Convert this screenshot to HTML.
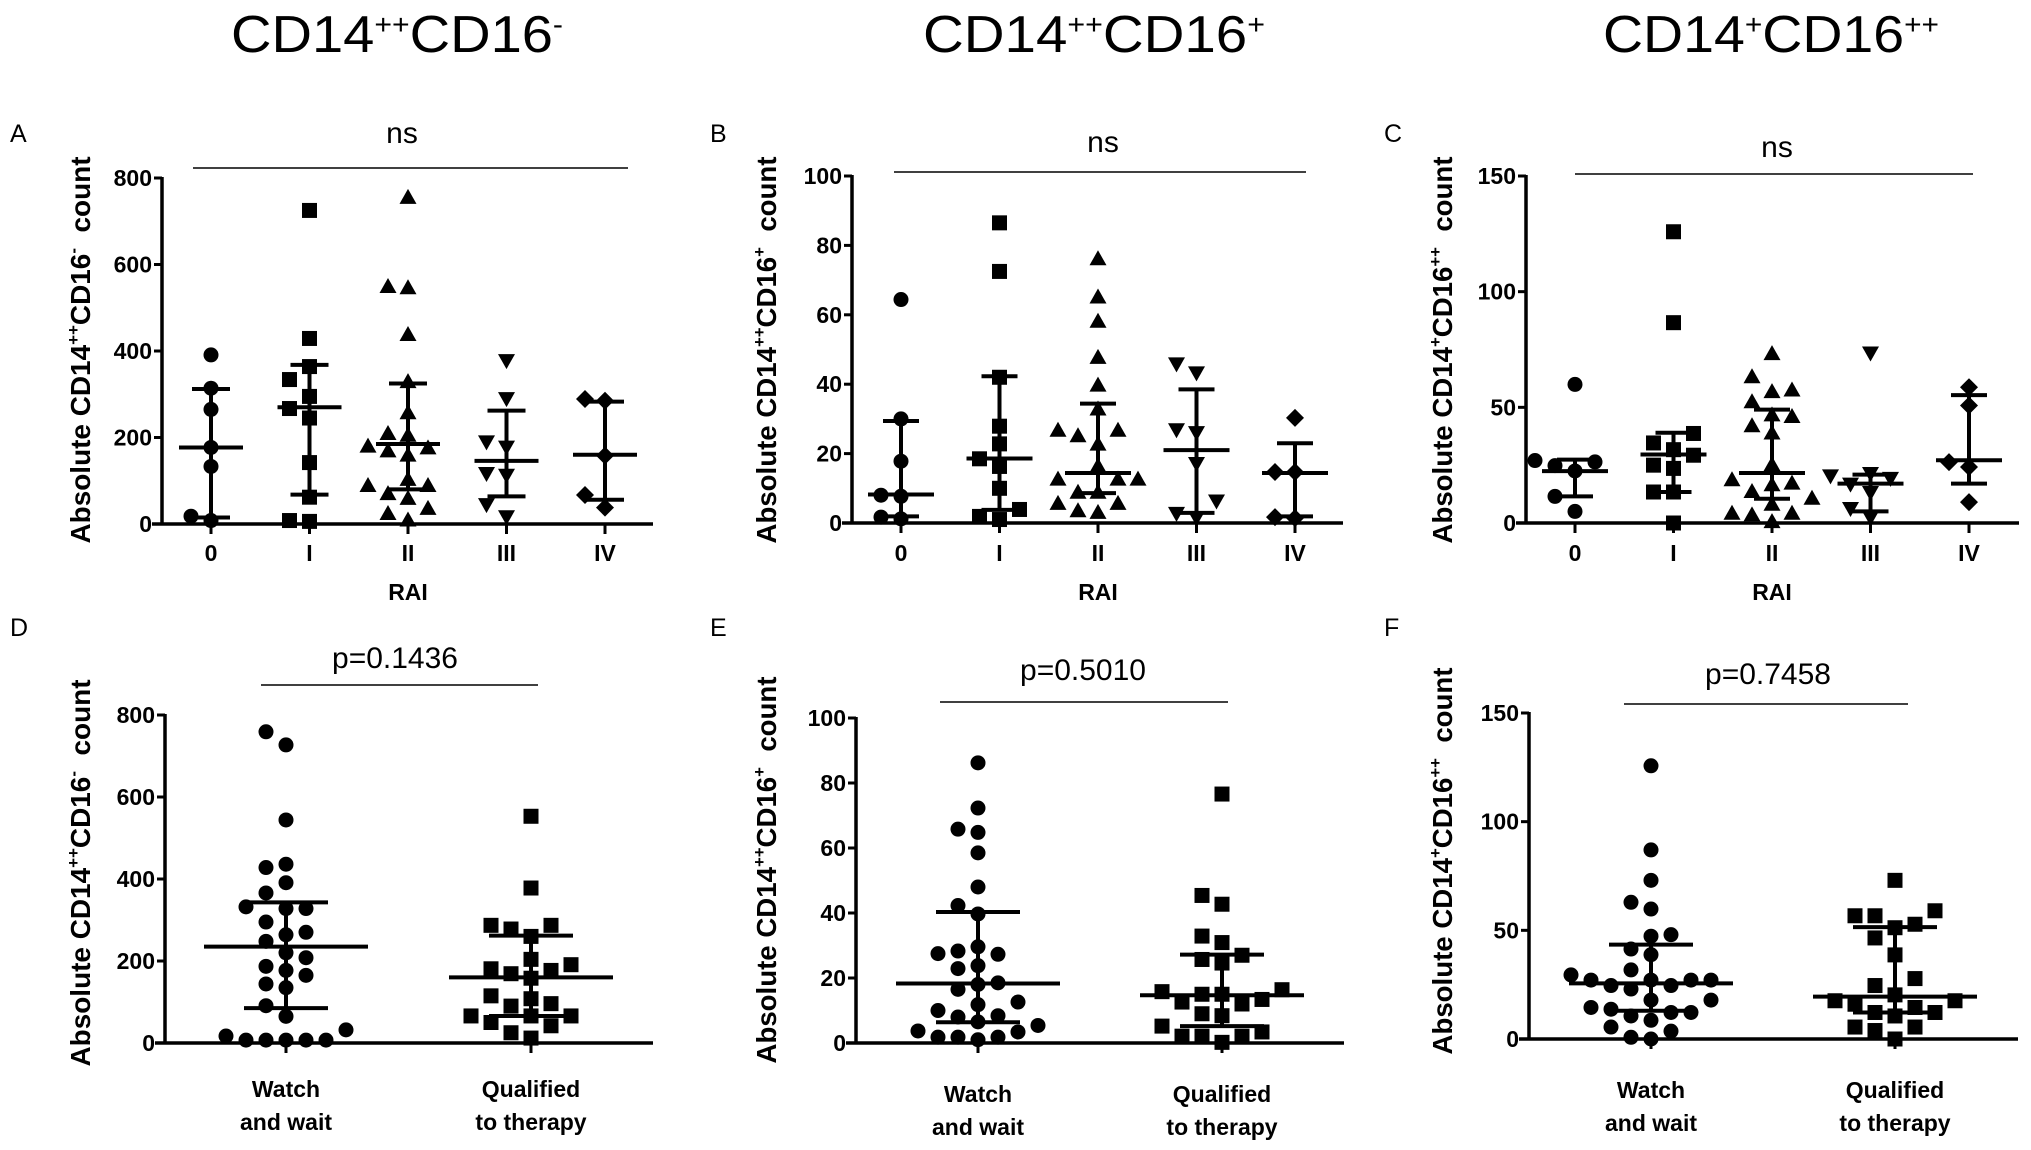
<!DOCTYPE html>
<html><head><meta charset="utf-8">
<style>
html,body{margin:0;padding:0;background:#fff;}
svg{display:block;}
text{font-family:"Liberation Sans",sans-serif;fill:#000;}
.tick{font-weight:bold;font-size:23px;}
.ylab{font-weight:bold;font-size:28px;}
.title{font-family:"Liberation Sans Narrow","Liberation Sans",sans-serif;font-size:52px;}
.letter{font-family:"Liberation Sans Narrow","Liberation Sans",sans-serif;font-size:25px;}
.sig{font-family:"Liberation Sans Narrow","Liberation Sans",sans-serif;font-size:30px;}
.pval{font-size:30px;}
</style></head>
<body>
<svg id="fig" width="2031" height="1150" viewBox="0 0 2031 1150" xmlns="http://www.w3.org/2000/svg">
<text class="title" x="397" y="52" text-anchor="middle" textLength="332" lengthAdjust="spacingAndGlyphs">CD14<tspan dy="-18" font-size="28">++</tspan><tspan dy="18">CD16</tspan><tspan dy="-18" font-size="28">-</tspan></text>
<text class="title" x="1094" y="52" text-anchor="middle" textLength="342" lengthAdjust="spacingAndGlyphs">CD14<tspan dy="-18" font-size="28">++</tspan><tspan dy="18">CD16</tspan><tspan dy="-18" font-size="28">+</tspan></text>
<text class="title" x="1771" y="52" text-anchor="middle" textLength="336" lengthAdjust="spacingAndGlyphs">CD14<tspan dy="-18" font-size="28">+</tspan><tspan dy="18">CD16</tspan><tspan dy="-18" font-size="28">++</tspan></text>
</svg>
<script>
// ---- data ----
const raiCategories = ["0","I","II","III","IV"];
const groupLine1 = ["Watch","Qualified"];
const groupLine2 = ["and wait","to therapy"];

const aTicks = [0,200,400,600,800];
const aRai0 = [391,314,265,177,133,18,8];
const aRaiI = [725,429,364,334,295,267,245,142,62,6,8];
const aRaiII = [754,545,548,437,328,256,204,208,179,175,168,158,102,88,88,69,58,35,23,8];
const aRaiIII = [379,291,191,179,118,114,46,18];
const aRaiIV = [289,285,158,67,38];
const aMedian = [177,270,185,146,160];
const aUpper = [312,368,325,262,283];
const aLower = [15,68,80,64,56];

const bTicks = [0,20,40,60,80,100];
const bRai0 = [64.4,30,17.8,8,7.7,1.7,1.2];
const bRaiI = [86.5,72.5,42,27.9,22.8,18.5,16.3,10,3.9,1,1.9];
const bRaiII = [76,65,58,47.6,39.6,32.7,26.6,26.6,25,22.6,16.3,12.5,12.5,12.5,8.7,8.7,5.5,5.5,2.9,3.4];
const bRaiIII = [46,43.4,27,26.2,17.3,6.5,2.9,1.7];
const bRaiIV = [30.3,14.7,14.7,1.7,1.4];
const bMedian = [8.2,18.6,14.4,21,14.4];
const bUpper = [29.4,42.3,34.4,38.5,23];
const bLower = [1.9,3.8,8.6,2.9,1.9];

const cTicks = [0,50,100,150];
const cRai0 = [59.9,27,26.4,24.8,22.5,11.5,5];
const cRaiI = [125.9,86.6,38.7,34.6,31.7,29.3,25,23.6,13.4,13.4,0];
const cRaiII = [73,63,57.3,56.6,52.2,46.5,45.8,41.8,38.7,25,18.5,17,16.3,13.4,10.5,7.9,4,4,3.3,0.4];
const cRaiIII = [73.7,21.6,20.6,19.5,17,13.4,6.5,2.6];
const cRaiIV = [58.7,50.8,26.3,24.2,9];
const cMedian = [22.4,29.6,21.6,17,27.1];
const cUpper = [27.4,39,49,20.9,55.3];
const cLower = [11.5,13.4,10.5,5,17];

const dWatch = [759,727,544,436,428,391,366,332,328,328,295,270,264,248,220,208,187,177,165,144,135,91,65,32,17,7,7,7,7,7];
const dQualified = [553,378,287,287,278,260,204,191,181,177,169,158,115,108,96,90,66,66,66,50,42,25,12];
const dMedian = [235,160];
const dUpper = [343,262];
const dLower = [85,66];

const eWatch = [86.2,72.3,65.8,64.8,58.5,48,42.3,39.7,29.6,28.3,27.5,27.3,23.8,22.9,18.5,18,16.5,12.6,11.8,10,8.4,8,6.5,5.4,3.7,3.4,1.8,1.8,1.8,1];
const eQualified = [76.6,45.4,42.7,32.9,30.9,27,25.7,24.6,16.4,15.8,15,15,13.4,12.6,12,9,8.4,5.2,3.4,2.1,2.1,2.1,0.2];
const eMedian = [18.3,14.7];
const eUpper = [40.3,27.2];
const eLower = [6.4,5.2];

const fWatch = [125.7,87,73,62.9,59.8,48,47.3,41.4,38.8,31.8,29.5,27.1,27.1,27.1,27.1,24.6,24.6,23,17.9,17.9,14.5,13.7,12.2,12.2,10.6,8.6,5.5,3.6,0.8,0];
const fQualified = [73,59,56.7,56.7,52.8,51.2,46.5,38.7,27.8,24.6,20.3,17.6,17.6,16,14.5,12.2,12.2,10.6,5.5,5.5,3.9,0];
const fMedian = [25.6,19.5];
const fUpper = [43.4,51.5];
const fLower = [13,12.2];

// ---- layout ----
const NS = "http://www.w3.org/2000/svg";
const svg = document.getElementById("fig");
function mk(tag, attrs, parent){
  const e = document.createElementNS(NS, tag);
  for (const k in attrs) e.setAttribute(k, attrs[k]);
  (parent||svg).appendChild(e);
  return e;
}

const panels = [
 {id:"a",letter:"A",lx:10,ly:142,ax:162,y0:524,yTop:178,max:800,ticks:aTicks,first:211,step:98.5,end:653,
  groups:[aRai0,aRaiI,aRaiII,aRaiIII,aRaiIV],shapes:["circle","square","up","down","diamond"],labels:raiCategories,
  med:aMedian,up:aUpper,lo:aLower,medW:32,capW:19,brX1:193,brX2:628,brY:168,sig:"ns",sigX:402,sigY:143,sigCls:"sig",
  ylx:90,yly:350,ylabel:["CD14","++","CD16","-"],xtitle:"RAI",xtitleY:600,catY:561},
 {id:"b",letter:"B",lx:710,ly:142,ax:852,y0:523,yTop:176,max:100,ticks:bTicks,first:901,step:98.5,end:1343,
  groups:[bRai0,bRaiI,bRaiII,bRaiIII,bRaiIV],shapes:["circle","square","up","down","diamond"],labels:raiCategories,
  med:bMedian,up:bUpper,lo:bLower,medW:33,capW:18,brX1:894,brX2:1306,brY:172,sig:"ns",sigX:1103,sigY:152,sigCls:"sig",
  ylx:776,yly:350,ylabel:["CD14","++","CD16","+"],xtitle:"RAI",xtitleY:600,catY:561},
 {id:"c",letter:"C",lx:1384,ly:142,ax:1526,y0:523,yTop:176,max:150,ticks:cTicks,first:1575,step:98.5,end:2019,
  groups:[cRai0,cRaiI,cRaiII,cRaiIII,cRaiIV],shapes:["circle","square","up","down","diamond"],labels:raiCategories,
  med:cMedian,up:cUpper,lo:cLower,medW:33,capW:18,brX1:1575,brX2:1973,brY:174,sig:"ns",sigX:1777,sigY:157,sigCls:"sig",
  ylx:1452,yly:350,ylabel:["CD14","+","CD16","++"],xtitle:"RAI",xtitleY:600,catY:561},
 {id:"d",letter:"D",lx:10,ly:636,ax:165,y0:1043,yTop:715,max:800,ticks:aTicks,first:286,step:245,end:653,
  groups:[dWatch,dQualified],shapes:["circle","square"],labels:null,
  med:dMedian,up:dUpper,lo:dLower,medW:82,capW:42,brX1:261,brX2:538,brY:685,sig:"p=0.1436",sigX:395,sigY:668,sigCls:"pval",
  ylx:90,yly:873,ylabel:["CD14","++","CD16","-"],catY:1097},
 {id:"e",letter:"E",lx:710,ly:636,ax:856,y0:1043,yTop:718,max:100,ticks:bTicks,first:978,step:244,end:1344,
  groups:[eWatch,eQualified],shapes:["circle","square"],labels:null,
  med:eMedian,up:eUpper,lo:eLower,medW:82,capW:42,brX1:940,brX2:1228,brY:702,sig:"p=0.5010",sigX:1083,sigY:680,sigCls:"pval",
  ylx:776,yly:870,ylabel:["CD14","++","CD16","+"],catY:1102},
 {id:"f",letter:"F",lx:1384,ly:636,ax:1529,y0:1039,yTop:713,max:150,ticks:cTicks,first:1651,step:244,end:2018,
  groups:[fWatch,fQualified],shapes:["circle","square"],labels:null,
  med:fMedian,up:fUpper,lo:fLower,medW:82,capW:42,brX1:1624,brX2:1908,brY:704,sig:"p=0.7458",sigX:1768,sigY:684,sigCls:"pval",
  ylx:1452,yly:861,ylabel:["CD14","+","CD16","++"],catY:1098}
];

function drawMarker(g, shape, x, y){
  let m;
  if (shape==="circle") m = mk("circle",{cx:x,cy:y,r:7.5,fill:"#000"},g);
  else if (shape==="square") m = mk("rect",{x:x-7.5,y:y-7.5,width:15,height:15,fill:"#000"},g);
  else if (shape==="up") m = mk("polygon",{points:`${x},${y-9} ${x+8.5},${y+6} ${x-8.5},${y+6}`,fill:"#000"},g);
  else if (shape==="down") m = mk("polygon",{points:`${x},${y+9} ${x+8.5},${y-6} ${x-8.5},${y-6}`,fill:"#000"},g);
  else m = mk("polygon",{points:`${x},${y-9} ${x+9},${y} ${x},${y+9} ${x-9},${y}`,fill:"#000"},g);
  return m;
}

panels.forEach(p=>{
  const g = mk("g",{});
  
  
  const yS = v => p.y0 - (v/p.max)*(p.y0-p.yTop);
  const xS = i => p.first + i*p.step;

  const L = mk("text",{x:p.lx,y:p.ly,class:"letter"},g);
  L.textContent = p.letter;
  
  

  const ya = mk("line",{x1:p.ax,y1:p.yTop-1,x2:p.ax,y2:p.y0,stroke:"#000","stroke-width":3.5},g);
  
  
  const xa = mk("line",{x1:p.ax-10,y1:p.y0,x2:p.end,y2:p.y0,stroke:"#000","stroke-width":3.5},g);
  
  

  p.ticks.forEach(t=>{
    const y = yS(t);
    const tl = mk("line",{x1:p.ax-8,y1:y,x2:p.ax,y2:y,stroke:"#000","stroke-width":3},g);
    
    
    const tx = mk("text",{x:p.ax-10,y:y+8,class:"tick","text-anchor":"end"},g);
    tx.textContent = t;
    
    
  });

  p.groups.forEach((vals,i)=>{
    const cx = xS(i);
    const tk = mk("line",{x1:cx,y1:p.y0,x2:cx,y2:p.y0+10,stroke:"#000","stroke-width":3},g);
    
    
    if (p.labels){
      const ct = mk("text",{x:cx,y:p.catY,class:"tick","text-anchor":"middle"},g);
      ct.textContent = p.labels[i];
      
      
    } else {
      const c1 = mk("text",{x:cx,y:p.catY,class:"tick","text-anchor":"middle"},g);
      c1.textContent = groupLine1[i];
      
      
      const c2 = mk("text",{x:cx,y:p.catY+33,class:"tick","text-anchor":"middle"},g);
      c2.textContent = groupLine2[i];
      
      
    }
    const placed = [];
    const order = vals.map((v,k)=>k).sort((a,b)=>vals[a]-vals[b]);
    const slots = [0,-1,1,-2,2,-3,3,-4,4];
    order.forEach(k=>{
      const y = yS(vals[k]);
      let slot = 0;
      for (const s of slots){
        if (!placed.some(q=>q.s===s && Math.abs(q.y-y)<17)){ slot = s; break; }
      }
      placed.push({s:slot,y:y});
      const m = drawMarker(g, p.shapes[i], cx + slot*20, y);
      
      
    });
    const ym = yS(p.med[i]), yu = yS(p.up[i]), yl = yS(p.lo[i]);
    const vl = mk("line",{x1:cx,y1:yu,x2:cx,y2:yl,stroke:"#000","stroke-width":4},g);
    
    
    const ml = mk("line",{x1:cx-p.medW,y1:ym,x2:cx+p.medW,y2:ym,stroke:"#000","stroke-width":4},g);
    
    
    const uc = mk("line",{x1:cx-p.capW,y1:yu,x2:cx+p.capW,y2:yu,stroke:"#000","stroke-width":4},g);
    
    
    const lc = mk("line",{x1:cx-p.capW,y1:yl,x2:cx+p.capW,y2:yl,stroke:"#000","stroke-width":4},g);
    
    
  });

  const br = mk("line",{x1:p.brX1,y1:p.brY,x2:p.brX2,y2:p.brY,stroke:"#000","stroke-width":1.6},g);
  
  
  const st = mk("text",{x:p.sigX,y:p.sigY,class:p.sigCls,"text-anchor":"middle"},g);
  st.textContent = p.sig;
  
  

  const yt = mk("text",{x:0,y:0,class:"ylab","text-anchor":"middle",transform:`translate(${p.ylx},${p.yly}) rotate(-90)`,textLength:387,lengthAdjust:"spacingAndGlyphs"},g);
  
  
  const t1 = mk("tspan",{},yt); t1.textContent = "Absolute " + p.ylabel[0];
  const t2 = mk("tspan",{dy:-11,"font-size":17},yt); t2.textContent = p.ylabel[1];
  const t3 = mk("tspan",{dy:11},yt); t3.textContent = p.ylabel[2];
  const t4 = mk("tspan",{dy:-11,"font-size":17},yt); t4.textContent = p.ylabel[3];
  const t5 = mk("tspan",{dy:11},yt); t5.textContent = "\u00a0 count";

  if (p.xtitle){
    const xt = mk("text",{x:(xS(0)+xS(p.groups.length-1))/2,y:p.xtitleY,class:"tick","text-anchor":"middle"},g);
    xt.textContent = p.xtitle;
    
    
  }
});
</script>
</body></html>
